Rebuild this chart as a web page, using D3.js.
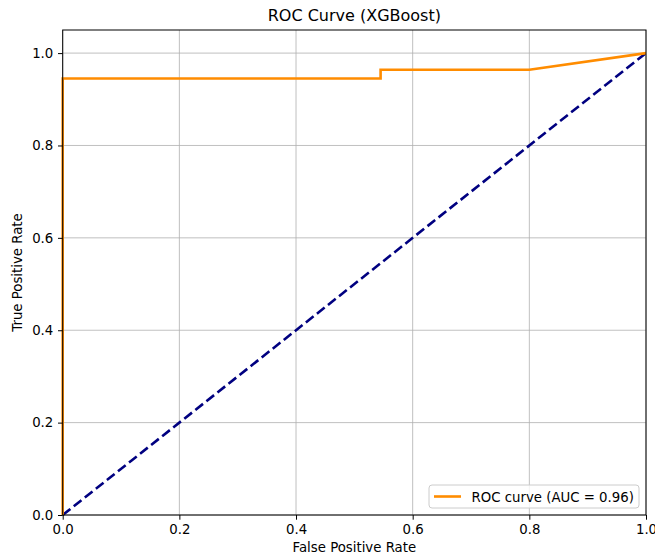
<!DOCTYPE html>
<html>
<head>
<meta charset="utf-8">
<script src="https://cdn.jsdelivr.net/npm/d3@7"></script>
<style>
  body { margin: 0; background: #fff; }
  svg text { font-family: "DejaVu Sans", sans-serif; fill: #000; }
</style>
</head>
<body>
<svg id="chart" width="655" height="557"></svg>
<script>
// ROC points
const fpr = [0, 0, 0.545, 0.545, 0.8, 1.0];
const tpr = [0, 0.945, 0.945, 0.964, 0.964, 1.0];
const diagX = [0, 1];
const diagY = [0, 1];
const xTicks = [0, 0.2, 0.4, 0.6, 0.8, 1.0];
const yTicks = [0, 0.2, 0.4, 0.6, 0.8, 1.0];
const aucLabel = 'ROC curve (AUC = 0.96)';

const margin = { top: 30, right: 9, bottom: 42, left: 62.7 };
const width = 655, height = 557;
const fs = 13.3;

const svg = d3.select('#chart');

const x = d3.scaleLinear().domain([0, 1]).range([margin.left, width - margin.right]);
const y = d3.scaleLinear().domain([0, 1.05]).range([height - margin.bottom, margin.top]);

// grid
svg.append('g')
    .selectAll('line')
    .data(xTicks)
    .join('line')
    .attr('x1', d => x(d)).attr('x2', d => x(d))
    .attr('y1', y(0)).attr('y2', y(1.05))
    .attr('stroke', '#b0b0b0').attr('stroke-width', 0.8);
svg.append('g')
    .selectAll('line')
    .data(yTicks)
    .join('line')
    .attr('y1', d => y(d)).attr('y2', d => y(d))
    .attr('x1', x(0)).attr('x2', x(1))
    .attr('stroke', '#b0b0b0').attr('stroke-width', 0.8);

// diagonal
const line = d3.line().x(d => x(d[0])).y(d => y(d[1]));
svg.append('path')
    .datum(d3.zip(diagX, diagY))
    .attr('d', line)
    .attr('fill', 'none')
    .attr('stroke', 'navy')
    .attr('stroke-width', 2.6)
    .attr('stroke-dasharray', '9.8,4.3');

// roc curve
svg.append('path')
    .datum(d3.zip(fpr, tpr))
    .attr('d', line)
    .attr('fill', 'none')
    .attr('stroke', 'darkorange')
    .attr('stroke-width', 2.6);

// frame
svg.append('rect')
    .attr('x', x(0)).attr('y', y(1.05))
    .attr('width', x(1) - x(0)).attr('height', y(0) - y(1.05))
    .attr('fill', 'none').attr('stroke', '#000').attr('stroke-width', 1);

// axes
const xAxis = svg.append('g')
    .attr('transform', `translate(0,${y(0)})`)
    .call(d3.axisBottom(x).tickValues(xTicks).tickFormat(d3.format('.1f')).tickSize(4.7).tickPadding(4.7));
const yAxis = svg.append('g')
    .attr('transform', `translate(${x(0)},0)`)
    .call(d3.axisLeft(y).tickValues(yTicks).tickFormat(d3.format('.1f')).tickSize(4.7).tickPadding(4.7));
[xAxis, yAxis].forEach(g => {
    g.select('.domain').remove();
    g.selectAll('text').attr('font-size', fs).attr('font-family', '"DejaVu Sans", sans-serif').attr('fill', '#000');
    g.selectAll('line').attr('stroke', '#000').attr('stroke-width', 1);
});

// labels
svg.append('text')
    .attr('x', (x(0) + x(1)) / 2).attr('y', 21)
    .attr('text-anchor', 'middle').attr('font-size', 16)
    .text('ROC Curve (XGBoost)');
svg.append('text')
    .attr('x', (x(0) + x(1)) / 2).attr('y', 552)
    .attr('text-anchor', 'middle').attr('font-size', fs)
    .text('False Positive Rate');
svg.append('text')
    .attr('transform', `translate(22,${(y(0) + y(1.05)) / 2}) rotate(-90)`)
    .attr('text-anchor', 'middle').attr('font-size', fs)
    .text('True Positive Rate');

// legend
const lg = svg.append('g').attr('transform', `translate(${x(1) - 217},${y(0) - 30})`);
lg.append('rect')
    .attr('width', 210).attr('height', 23).attr('rx', 3)
    .attr('fill', 'rgba(255,255,255,0.8)').attr('stroke', '#cccccc').attr('stroke-width', 1);
lg.append('line')
    .attr('x1', 5).attr('x2', 32).attr('y1', 11.5).attr('y2', 11.5)
    .attr('stroke', 'darkorange').attr('stroke-width', 2.6);
lg.append('text')
    .attr('x', 42.5).attr('y', 16.5).attr('font-size', fs)
    .text(aucLabel);
</script>
</body>
</html>
